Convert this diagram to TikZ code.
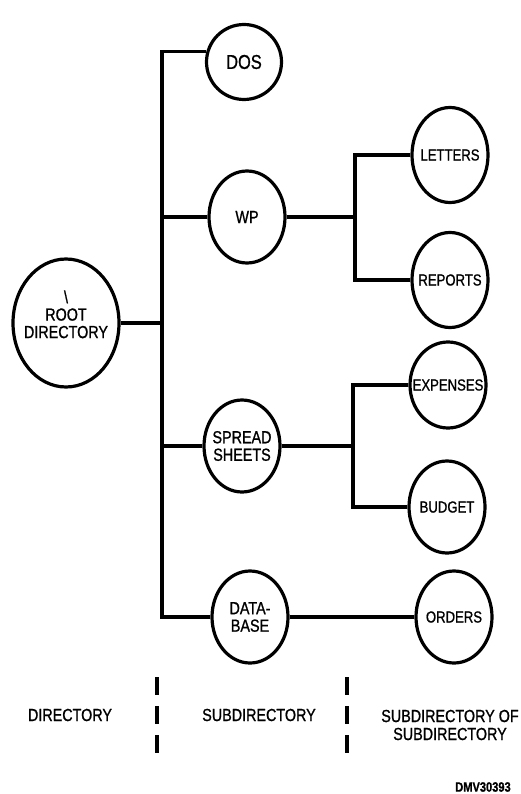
\documentclass[tikz,border=0pt]{standalone}
\usepackage{fontspec}
\setmainfont{Liberation Sans}[FakeStretch=0.82,FakeBold=1]
\usetikzlibrary{shapes.geometric}

\begin{document}
\begin{tikzpicture}[x=1pt,y=-1pt,font=\fontsize{17.5}{17.5}\selectfont]
    \tikzset{
      dr/.style={ellipse,draw,line width=3.2pt,inner xsep=-20pt,inner ysep=0pt,
                 align=center,minimum width=76pt,minimum height=92pt},
      sm/.style={dr,font=\fontsize{16}{16}\selectfont},
      ln/.style={line width=3.2pt},
      dv/.style={line width=3.5pt,dash pattern=on 18pt off 11pt},
      lb/.style={align=center,inner sep=0pt}}
    \useasboundingbox (0,0) rectangle (521,794);
    \node[dr,minimum width=106pt,minimum height=128pt] (root) at (66,323) {\textbackslash\\ROOT\\DIRECTORY\\\mbox{}};
    \node[dr,minimum width=75pt,minimum height=75pt,font=\fontsize{20}{20}\selectfont] (dos) at (244,62) {DOS};
    \node[dr] (wp) at (247,217) {WP};
    \node[dr] (ss) at (242,446) {SPREAD\\SHEETS};
    \node[dr] (db) at (250,617) {DATA-\\BASE};
    \node[sm,minimum height=95pt] (let) at (450,155) {LETTERS};
    \node[sm,minimum height=95pt] (rep) at (450,280) {REPORTS};
    \node[sm,minimum height=86pt] (exp) at (448,385) {EXPENSES};
    \node[sm] (bud) at (447,507) {BUDGET};
    \node[sm] (ord) at (454,617) {ORDERS};
    \coordinate (tr) at (162,0);
    \coordinate (b1) at (355,0);
    \coordinate (b2) at (353,0);
    \draw[ln] (root.east) -- (tr |- root.east);
    \draw[ln] (dos.165) -- (tr |- dos.165) -- (tr |- db.west) -- (db.west);
    \foreach \n in {wp,ss} \draw[ln] (tr |- \n.west) -- (\n.west);
    \draw[ln] (wp.east) -- (b1 |- wp.east);
    \draw[ln] (let.west) -- (b1 |- let.west) -- (b1 |- rep.west) -- (rep.west);
    \draw[ln] (ss.east) -- (b2 |- ss.east);
    \draw[ln] (exp.west) -- (b2 |- exp.west) -- (b2 |- bud.west) -- (bud.west);
    \draw[ln] (db.east) -- (ord.west);
    \draw[dv] (157,677) -- (157,753);
    \draw[dv] (347,677) -- (347,753);
    \node[lb] (l1) at (70,715) {DIRECTORY};
    \node[lb] (l2) at (259,715) {SUBDIRECTORY};
    \node[lb,font=\fontsize{17.5}{18}\selectfont] (l3) at (450,725) {SUBDIRECTORY OF\\SUBDIRECTORY};
    \node[lb,font=\fontsize{13.5}{14}\selectfont\bfseries] (id) at (483,787) {DMV30393};
  \end{tikzpicture}
\end{document}
